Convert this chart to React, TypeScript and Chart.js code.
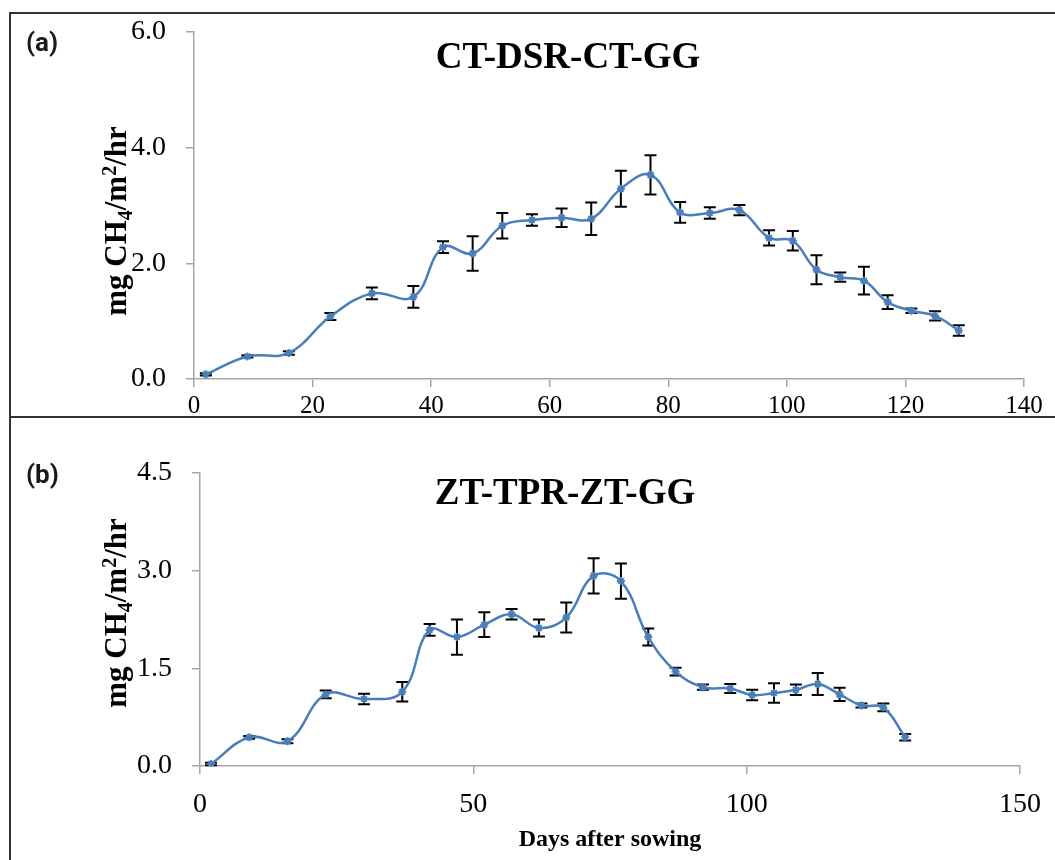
import React, { useEffect, useRef } from "react";
import { Chart, registerables } from "chart.js";

Chart.register(...registerables);

// ---- Data ----
const days = [2, 9, 16, 23, 30, 37, 42, 47, 52, 57, 62, 67, 72, 77, 82, 87, 92, 97, 101, 105, 109, 113, 117, 121, 125, 129];

const ctValues = [0.08, 0.39, 0.45, 1.08, 1.48, 1.42, 2.28, 2.17, 2.65, 2.75, 2.79, 2.77, 3.29, 3.53, 2.88, 2.87, 2.92, 2.44, 2.39, 1.89, 1.76, 1.70, 1.33, 1.18, 1.09, 0.84];
const ctErrors = [0.02, 0.02, 0.03, 0.06, 0.10, 0.19, 0.10, 0.30, 0.22, 0.10, 0.16, 0.28, 0.31, 0.34, 0.18, 0.10, 0.09, 0.13, 0.17, 0.25, 0.08, 0.24, 0.12, 0.04, 0.08, 0.09];

const ztValues = [0.03, 0.44, 0.38, 1.10, 1.03, 1.14, 2.09, 1.98, 2.17, 2.33, 2.12, 2.28, 2.92, 2.84, 1.98, 1.45, 1.21, 1.19, 1.09, 1.12, 1.17, 1.26, 1.10, 0.93, 0.90, 0.44];
const ztErrors = [0.02, 0.02, 0.03, 0.06, 0.08, 0.15, 0.09, 0.27, 0.19, 0.08, 0.13, 0.23, 0.27, 0.27, 0.13, 0.06, 0.04, 0.07, 0.08, 0.15, 0.08, 0.17, 0.10, 0.03, 0.06, 0.05];

const titleA = "CT-DSR-CT-GG";
const titleB = "ZT-TPR-ZT-GG";
// y-axis title pieces: [text, kind] where kind is normal / sub / sup
const yTitleParts: [string, string][] = [
  ["mg CH", "n"],
  ["4", "sub"],
  ["/m", "n"],
  ["2", "sup"],
  ["/hr", "n"],
];
const xAxisTitle = "Days after sowing";

const SERIF = "'Liberation Serif', 'Times New Roman', serif";
const LINE_BLUE = "#4a7ebb";
const AXIS_GREY = "#a6a6a6";

const errorBarPlugin = {
  id: "errorBars",
  beforeDatasetsDraw(chart: any, _args: any, opts: any) {
    const { ctx } = chart;
    const x = chart.scales.x;
    const y = chart.scales.y;
    const xs: number[] = opts.xs;
    const vals: number[] = opts.values;
    const errs: number[] = opts.errors;
    ctx.save();
    ctx.strokeStyle = "#000";
    ctx.lineWidth = 2;
    const cap = 6;
    xs.forEach((d, i) => {
      const px = x.getPixelForValue(d);
      const top = y.getPixelForValue(vals[i] + errs[i]);
      const bot = y.getPixelForValue(vals[i] - errs[i]);
      ctx.beginPath();
      ctx.moveTo(px, top);
      ctx.lineTo(px, bot);
      ctx.moveTo(px - cap, top);
      ctx.lineTo(px + cap, top);
      ctx.moveTo(px - cap, bot);
      ctx.lineTo(px + cap, bot);
      ctx.stroke();
    });
    ctx.restore();
  },
};

const textPlugin = {
  id: "panelText",
  afterDraw(chart: any, _args: any, opts: any) {
    const { ctx } = chart;
    ctx.save();
    // panel title
    ctx.font = `bold ${opts.size}px ${SERIF}`;
    ctx.fillStyle = "#000";
    ctx.textAlign = "center";
    ctx.textBaseline = "middle";
    ctx.fillText(opts.text, opts.cx, opts.cy);
    // rotated y-axis title with sub/superscripts
    const fs = opts.ySize;
    const small = Math.round(fs * 0.65);
    const fontN = `bold ${fs}px ${SERIF}`;
    const fontS = `bold ${small}px ${SERIF}`;
    let total = 0;
    yTitleParts.forEach(([t, k]) => {
      ctx.font = k === "n" ? fontN : fontS;
      total += ctx.measureText(t).width;
    });
    ctx.translate(opts.yx, opts.yy);
    ctx.rotate(-Math.PI / 2);
    ctx.textAlign = "left";
    ctx.textBaseline = "alphabetic";
    let pos = -total / 2;
    const base = fs * 0.33;
    yTitleParts.forEach(([t, k]) => {
      ctx.font = k === "n" ? fontN : fontS;
      const dy = k === "sub" ? fs * 0.18 : k === "sup" ? -fs * 0.33 : 0;
      ctx.fillText(t, pos, base + dy);
      pos += ctx.measureText(t).width;
    });
    ctx.restore();
  },
};

type PanelProps = {
  left: number;
  top: number;
  width: number;
  height: number;
  values: number[];
  errors: number[];
  yMax: number;
  yStep: number;
  xMax: number;
  xStep: number;
  title: string;
  titleX: number;
  titleY: number;
  yTitleX: number;
  yTitleY: number;
  padTop: number;
  padRight: number;
  yAxisWidth: number;
  xAxisHeight: number;
  xTickFont: number;
  xTickPad: number;
  showXTitle: boolean;
};

function Panel(p: PanelProps) {
  const ref = useRef<HTMLCanvasElement | null>(null);
  useEffect(() => {
    if (!ref.current) return;
    const chart = new Chart(ref.current, {
      type: "line",
      data: {
        datasets: [
          {
            data: days.map((d, i) => ({ x: d, y: p.values[i] })),
            borderColor: LINE_BLUE,
            backgroundColor: LINE_BLUE,
            borderWidth: 2.5,
            tension: 0.4,
            pointStyle: "star",
            pointRadius: 4,
            pointBorderWidth: 2,
            pointBorderColor: LINE_BLUE,
            pointBackgroundColor: LINE_BLUE,
          },
        ],
      },
      options: {
        responsive: false,
        animation: false,
        events: [],
        layout: { padding: { top: p.padTop, right: p.padRight, left: 0, bottom: 0 } },
        plugins: {
          legend: { display: false },
          tooltip: { enabled: false },
          errorBars: { xs: days, values: p.values, errors: p.errors },
          panelText: {
            text: p.title,
            cx: p.titleX,
            cy: p.titleY,
            size: 37,
            ySize: 31,
            yx: p.yTitleX,
            yy: p.yTitleY,
          },
        } as any,
        scales: {
          x: {
            type: "linear",
            min: 0,
            max: p.xMax,
            afterFit: (s: any) => {
              s.height = p.xAxisHeight;
              s.paddingRight = 0;
              s.paddingLeft = 0;
            },
            ticks: {
              stepSize: p.xStep,
              color: "#000",
              padding: p.xTickPad,
              maxRotation: 0,
              font: { family: SERIF, size: p.xTickFont },
            },
            grid: {
              drawOnChartArea: false,
              drawTicks: true,
              tickLength: 8,
              color: AXIS_GREY,
              lineWidth: 1.5,
            },
            border: { color: AXIS_GREY, width: 1.5 },
            title: {
              display: p.showXTitle,
              text: xAxisTitle,
              color: "#000",
              font: { family: SERIF, size: 24, weight: "bold" },
              padding: { top: 0, bottom: 6 },
            },
          },
          y: {
            type: "linear",
            min: 0,
            max: p.yMax,
            afterFit: (s: any) => {
              s.width = p.yAxisWidth;
              s.paddingTop = 0;
              s.paddingBottom = 0;
            },
            ticks: {
              stepSize: p.yStep,
              color: "#000",
              padding: 20,
              font: { family: SERIF, size: 28 },
              callback: (v: any) => Number(v).toFixed(1),
            },
            grid: {
              drawOnChartArea: false,
              drawTicks: true,
              tickLength: 8,
              color: AXIS_GREY,
              lineWidth: 1.5,
            },
            border: { color: AXIS_GREY, width: 1.5 },
            title: { display: false },
          },
        },
      },
      plugins: [errorBarPlugin, textPlugin],
    } as any);
    return () => chart.destroy();
  }, []);
  return (
    <canvas
      ref={ref}
      width={p.width}
      height={p.height}
      style={{ position: "absolute", left: p.left, top: p.top, width: p.width, height: p.height }}
    />
  );
}

const labelStyle: React.CSSProperties = {
  position: "absolute",
  fontFamily: "Roboto, 'Open Sans', sans-serif",
  fontWeight: 700,
  fontSize: 26,
  lineHeight: "26px",
  color: "#1a1a1a",
};

export default function App() {
  return (
    <div style={{ position: "absolute", left: 0, top: 0, width: 1055, height: 860, background: "#fff", overflow: "hidden" }}>
      <Panel
        left={10}
        top={13}
        width={1045}
        height={404}
        values={ctValues}
        errors={ctErrors}
        yMax={6}
        yStep={2}
        xMax={140}
        xStep={20}
        title={titleA}
        titleX={558}
        titleY={45}
        yTitleX={106}
        yTitleY={208}
        padTop={19}
        padRight={31}
        yAxisWidth={184}
        xAxisHeight={38}
        xTickFont={25}
        xTickPad={4}
        showXTitle={false}
      />
      <Panel
        left={10}
        top={417}
        width={1045}
        height={443}
        values={ztValues}
        errors={ztErrors}
        yMax={4.5}
        yStep={1.5}
        xMax={150}
        xStep={50}
        title={titleB}
        titleX={555}
        titleY={77}
        yTitleX={106}
        yTitleY={196}
        padTop={56}
        padRight={35}
        yAxisWidth={190}
        xAxisHeight={94}
        xTickFont={28}
        xTickPad={14}
        showXTitle={true}
      />
      {/* panel frames */}
      <div style={{ position: "absolute", left: 9, top: 12, width: 1046, height: 2, background: "#333" }} />
      <div style={{ position: "absolute", left: 9, top: 12, width: 2, height: 848, background: "#333" }} />
      <div style={{ position: "absolute", left: 9, top: 416, width: 1046, height: 2, background: "#333" }} />
      <div style={{ ...labelStyle, left: 26, top: 29 }}>(a)</div>
      <div style={{ ...labelStyle, left: 26, top: 461 }}>(b)</div>
    </div>
  );
}
